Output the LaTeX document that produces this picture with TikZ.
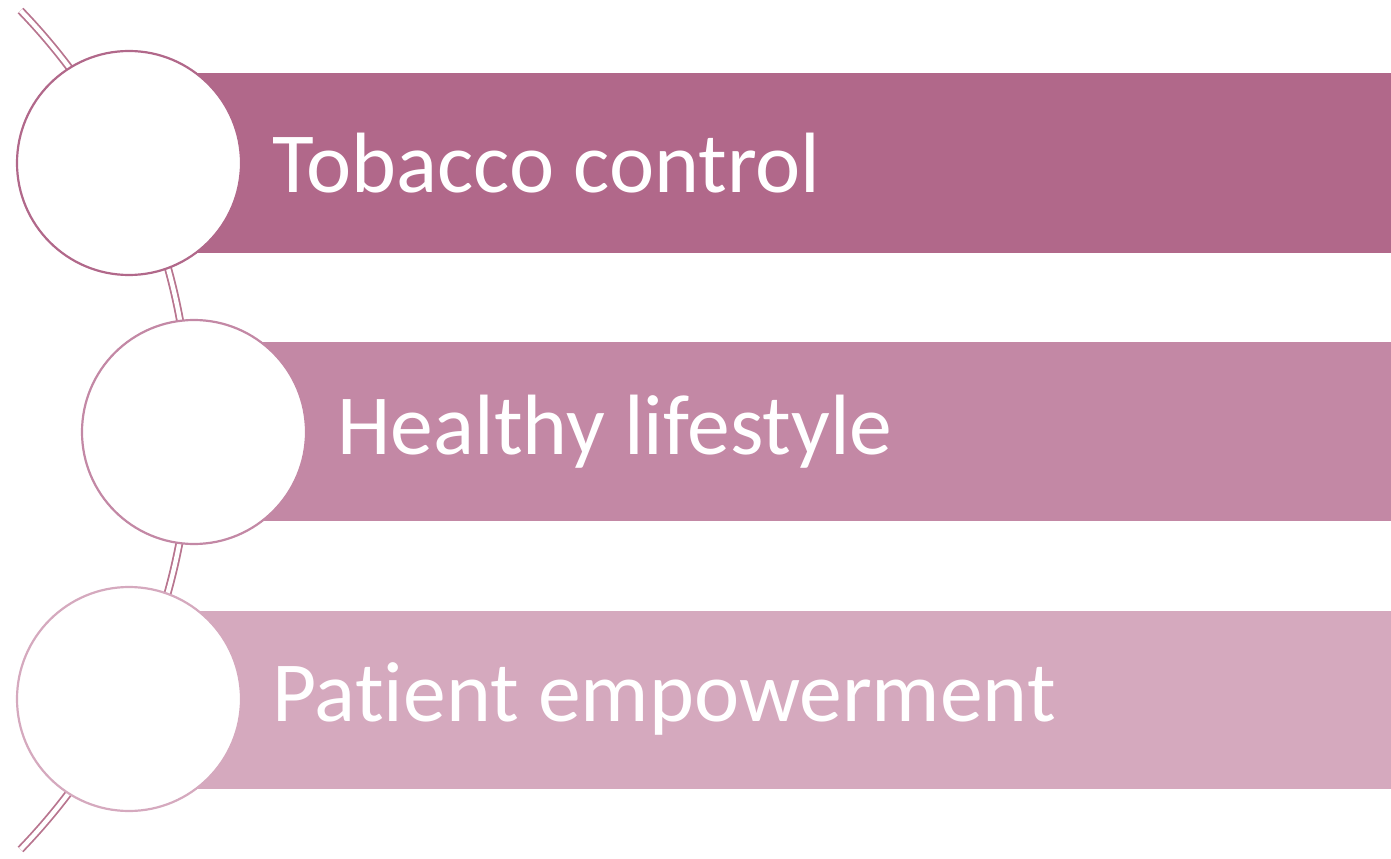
\documentclass[tikz,border=0pt]{standalone}
\usepackage{fontspec}
\setmainfont{Carlito}[Ligatures={NoCommon}]
\usepackage{tikz}
\usetikzlibrary{positioning, calc}
\definecolor{tobacco}{HTML}{B1688A}
\definecolor{healthy}{HTML}{C388A5}
\definecolor{patient}{HTML}{D5A9BE}
\definecolor{spinecol}{HTML}{B8758F}
\tikzset{
	bar/.style={
		rectangle,
		minimum width=631pt,
		minimum height=89pt,
		inner sep=0pt,
		anchor=east
	},
	disc/.style={
		circle,
		minimum size=112pt,
		inner sep=0pt,
		fill=white,
		line width=1.1pt
	},
	label text/.style={
		inner sep=0pt,
		text=white,
		font=\fontsize{42.8pt}{50pt}\selectfont
	},
	spine/.style={
		draw=spinecol,
		line width=0.9pt,
		double=white,
		double distance=2.2pt
	}
}

\begin{document}
\begin{tikzpicture}[x=0.5pt, y=0.5pt]
				\useasboundingbox (0,0) rectangle (1391,858);
				% bars behind the circles
				\node (bar1) [bar, fill=tobacco, minimum height=90pt] at (1391,695) {};
				\node (bar2) [bar, fill=healthy, minimum width=598.5pt] at (1391,426.5) {};
				\node (bar3) [bar, fill=patient] at (1391,158.5) {};
				
				% the curved spine
				\coordinate (spinetop) at ($(-413.8,428)+(44:603.8)$);
				\draw [spine] (spinetop) arc[start angle=44, end angle=-44, radius=301.9pt];
				
				\node (c1) [disc, draw=tobacco] at (129,695) {};
				\node (c2) [disc, draw=healthy] at (194,426) {};
				\node (c3) [disc, draw=patient] at (129,159) {};
				
				\node (t1) [label text, right=15pt of c1] {Tobacco control};
				\node (t2) [label text, right=15pt of c2] {Healthy lifestyle};
				\node (t3) [label text, right=15pt of c3] {Patient empowerment};
			\end{tikzpicture}
\end{document}
